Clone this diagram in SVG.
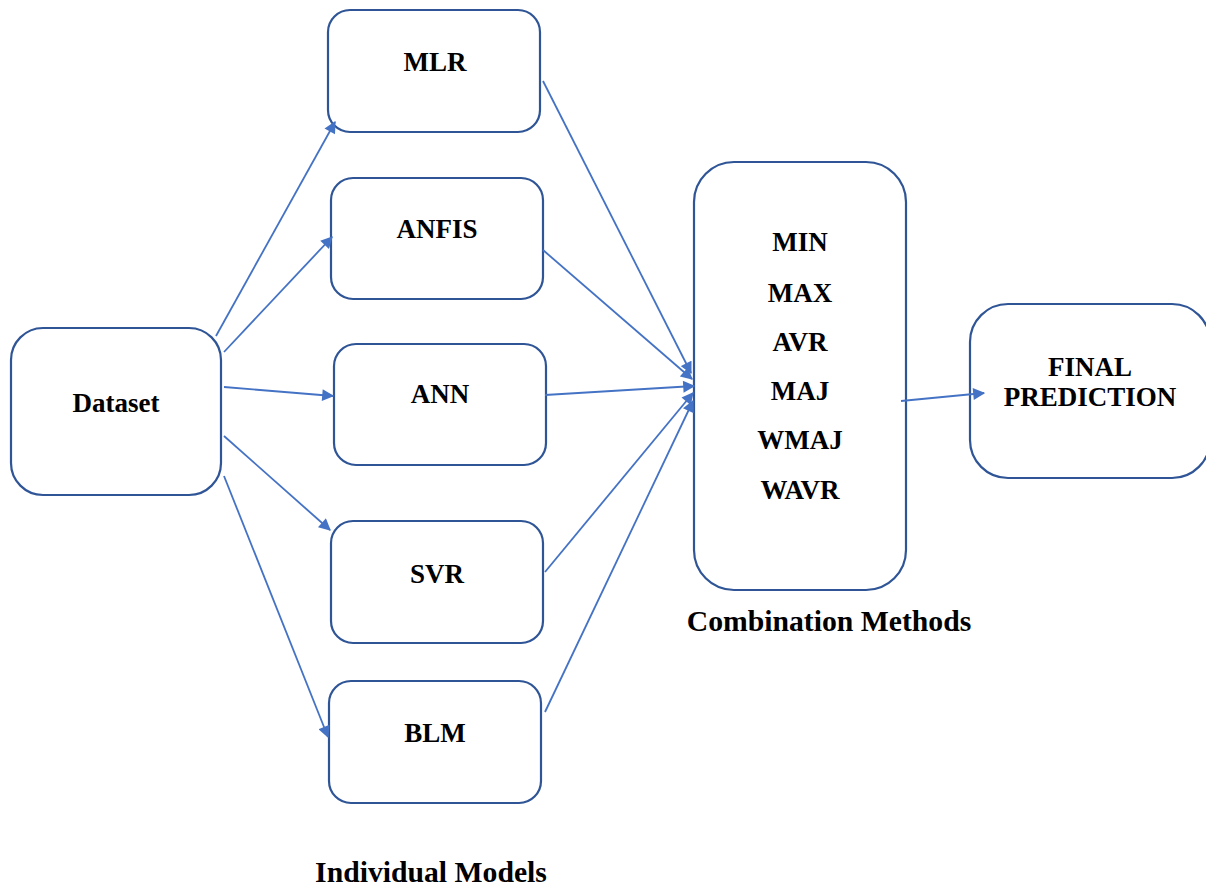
<svg xmlns="http://www.w3.org/2000/svg" width="1206" height="888" viewBox="0 0 1206 888">
<defs>
<style>
.box{fill:#fff;stroke:#2F5597;stroke-width:2.2}
.t{font-family:"Liberation Serif","Times New Roman",serif;font-weight:bold;font-size:27px;fill:#000;text-anchor:middle}
.lbl{font-family:"Liberation Serif","Times New Roman",serif;font-weight:bold;font-size:29.7px;fill:#000;text-anchor:middle}
.c{stroke:#4472C4;stroke-width:1.8;fill:none;marker-end:url(#ah)}
</style>
<marker id="ah" viewBox="0 0 10 10" refX="9" refY="5" markerWidth="13" markerHeight="12" markerUnits="userSpaceOnUse" orient="auto">
<path d="M0,0 L10,5 L0,10 z" fill="#4472C4"/>
</marker>
</defs>
<rect width="1206" height="888" fill="#fff"/>
<g id="dataset"><rect class="box" x="11" y="328" width="210" height="167" rx="32"/><text class="t" x="116" y="412">Dataset</text></g>
<g id="mlr"><rect class="box" x="328" y="10" width="212" height="122" rx="22"/><text class="t" x="435" y="71">MLR</text></g>
<g id="anfis"><rect class="box" x="331" y="178" width="212" height="121" rx="22"/><text class="t" x="437" y="238">ANFIS</text></g>
<g id="ann"><rect class="box" x="334" y="344" width="212" height="121" rx="22"/><text class="t" x="440" y="403">ANN</text></g>
<g id="svr"><rect class="box" x="331" y="521" width="212" height="122" rx="22"/><text class="t" x="437" y="583">SVR</text></g>
<g id="blm"><rect class="box" x="329" y="681" width="212" height="122" rx="22"/><text class="t" x="435" y="742">BLM</text></g>
<g id="combination"><rect class="box" x="694" y="162" width="212" height="428" rx="40"/>
<text class="t" x="800" y="251">MIN</text>
<text class="t" x="800" y="302">MAX</text>
<text class="t" x="800" y="351">AVR</text>
<text class="t" x="800" y="400">MAJ</text>
<text class="t" x="800" y="449">WMAJ</text>
<text class="t" x="800" y="499">WAVR</text>
</g>
<g id="final"><rect class="box" x="970" y="304" width="240" height="174" rx="38"/>
<text class="t" x="1090" y="376">FINAL</text>
<text class="t" x="1090" y="406">PREDICTION</text>
</g>
<g id="connectors">
<line class="c" x1="216" y1="336" x2="335" y2="122"/>
<line class="c" x1="224" y1="352" x2="332" y2="237"/>
<line class="c" x1="224" y1="387" x2="333" y2="396"/>
<line class="c" x1="224" y1="436" x2="330" y2="530"/>
<line class="c" x1="224" y1="476" x2="328" y2="737"/>
<line class="c" x1="543" y1="81" x2="691" y2="373"/>
<line class="c" x1="543" y1="250" x2="692" y2="379"/>
<line class="c" x1="545" y1="395" x2="694" y2="386"/>
<line class="c" x1="545" y1="572" x2="693" y2="393"/>
<line class="c" x1="545" y1="712" x2="693" y2="401"/>
<line class="c" x1="901" y1="401" x2="984" y2="393"/>
</g>
<g id="labels">
<text class="lbl" x="829" y="631">Combination Methods</text>
<text class="lbl" x="431" y="882">Individual Models</text>
</g>
</svg>
